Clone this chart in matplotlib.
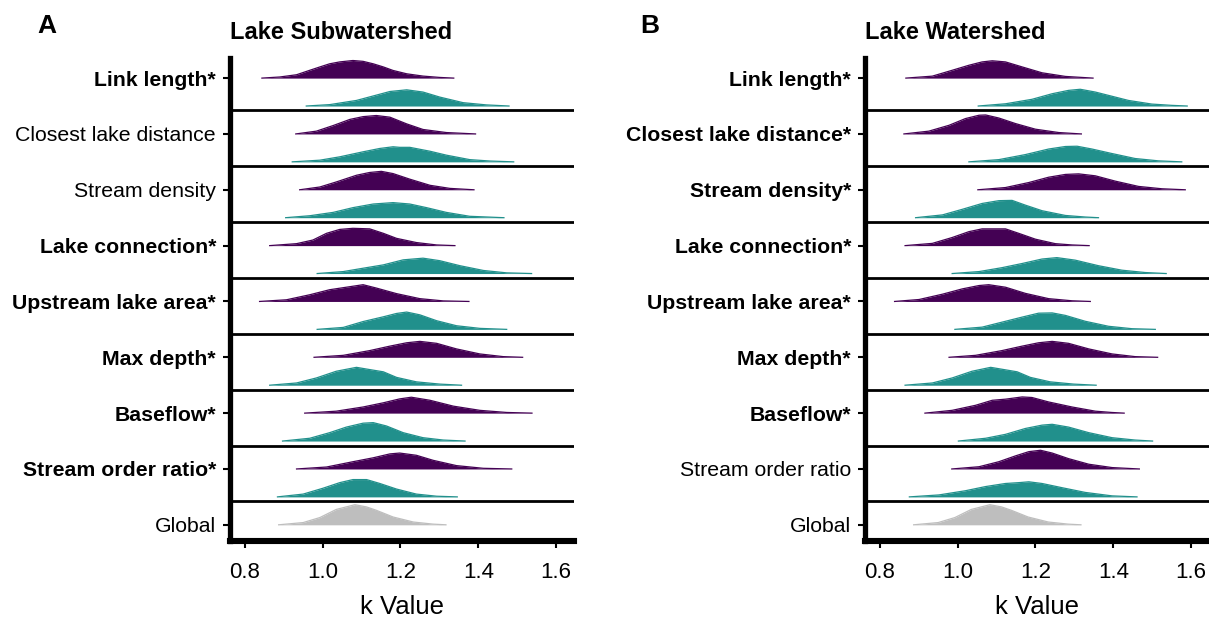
import matplotlib
matplotlib.use("Agg")
import matplotlib.pyplot as plt

plt.rcParams['font.family'] = ['Liberation Sans', 'DejaVu Sans']

# row labels (top to bottom) and which ones are bold (significant)
labels = ['Link length', 'Closest lake distance', 'Stream density', 'Lake connection',
          'Upstream lake area', 'Max depth', 'Baseflow', 'Stream order ratio']
sub_sig = [True, False, False, True, True, True, True, True]
ws_sig = [True, True, True, True, True, True, True, False]

# ridge outlines: k value and ridge height (row units)
sub_purple_x = [
    [0.844, 0.89, 0.933, 0.967, 0.993, 1.018, 1.044, 1.078, 1.104, 1.13, 1.156, 1.181, 1.216, 1.258, 1.301, 1.337],
    [0.931, 0.984, 1.027, 1.07, 1.104, 1.138, 1.173, 1.216, 1.258, 1.318, 1.393],
    [0.941, 0.993, 1.035, 1.087, 1.121, 1.151, 1.181, 1.224, 1.276, 1.327, 1.389],
    [0.864, 0.933, 0.975, 1.01, 1.044, 1.078, 1.121, 1.156, 1.19, 1.241, 1.293, 1.34],
    [0.838, 0.907, 0.967, 1.018, 1.061, 1.104, 1.138, 1.19, 1.25, 1.31, 1.376],
    [0.978, 1.053, 1.121, 1.173, 1.216, 1.25, 1.293, 1.344, 1.404, 1.464, 1.514],
    [0.954, 1.035, 1.104, 1.156, 1.198, 1.228, 1.276, 1.336, 1.404, 1.473, 1.538],
    [0.933, 1.01, 1.078, 1.13, 1.173, 1.198, 1.241, 1.284, 1.344, 1.413, 1.486],
]
sub_purple_h = [
    [0, 0.02, 0.06, 0.14, 0.2, 0.256, 0.29, 0.315, 0.30, 0.256, 0.2, 0.137, 0.077, 0.036, 0.012, 0],
    [0, 0.05, 0.15, 0.26, 0.31, 0.33, 0.30, 0.18, 0.08, 0.025, 0],
    [0, 0.05, 0.14, 0.26, 0.31, 0.33, 0.29, 0.19, 0.08, 0.025, 0],
    [0, 0.035, 0.10, 0.22, 0.29, 0.31, 0.30, 0.22, 0.13, 0.055, 0.012, 0],
    [0, 0.03, 0.12, 0.21, 0.255, 0.30, 0.24, 0.14, 0.05, 0.01, 0],
    [0, 0.035, 0.12, 0.20, 0.26, 0.285, 0.25, 0.15, 0.06, 0.012, 0],
    [0, 0.035, 0.11, 0.185, 0.255, 0.285, 0.23, 0.125, 0.05, 0.012, 0],
    [0, 0.035, 0.13, 0.20, 0.27, 0.285, 0.245, 0.155, 0.06, 0.012, 0],
]
sub_teal_x = [
    [0.958, 1.018, 1.087, 1.13, 1.173, 1.216, 1.258, 1.301, 1.361, 1.421, 1.479],
    [0.922, 0.993, 1.044, 1.104, 1.147, 1.181, 1.198, 1.224, 1.276, 1.318, 1.378, 1.43, 1.491],
    [0.905, 0.967, 1.027, 1.078, 1.13, 1.181, 1.224, 1.267, 1.318, 1.378, 1.466],
    [0.986, 1.053, 1.104, 1.156, 1.207, 1.258, 1.301, 1.353, 1.413, 1.473, 1.537],
    [0.986, 1.053, 1.104, 1.156, 1.19, 1.216, 1.25, 1.293, 1.344, 1.404, 1.473],
    [0.864, 0.933, 0.984, 1.035, 1.087, 1.121, 1.156, 1.19, 1.241, 1.301, 1.357],
    [0.897, 0.967, 1.018, 1.061, 1.104, 1.13, 1.164, 1.207, 1.258, 1.31, 1.366],
    [0.884, 0.95, 1.001, 1.044, 1.078, 1.113, 1.147, 1.19, 1.241, 1.293, 1.346],
]
sub_teal_h = [
    [0, 0.025, 0.10, 0.18, 0.26, 0.29, 0.25, 0.16, 0.06, 0.02, 0],
    [0, 0.03, 0.09, 0.18, 0.24, 0.27, 0.26, 0.26, 0.19, 0.12, 0.04, 0.015, 0],
    [0, 0.035, 0.095, 0.18, 0.245, 0.27, 0.245, 0.18, 0.095, 0.025, 0],
    [0, 0.035, 0.095, 0.155, 0.245, 0.275, 0.23, 0.14, 0.055, 0.012, 0],
    [0, 0.035, 0.14, 0.225, 0.285, 0.31, 0.26, 0.155, 0.065, 0.018, 0],
    [0, 0.04, 0.13, 0.25, 0.32, 0.28, 0.24, 0.14, 0.06, 0.02, 0],
    [0, 0.05, 0.15, 0.25, 0.32, 0.33, 0.27, 0.15, 0.06, 0.018, 0],
    [0, 0.05, 0.155, 0.255, 0.31, 0.31, 0.24, 0.14, 0.05, 0.012, 0],
]

ws_purple_x = [
    [0.867, 0.935, 0.986, 1.029, 1.063, 1.089, 1.123, 1.166, 1.217, 1.277, 1.348],
    [0.862, 0.926, 0.978, 1.02, 1.055, 1.072, 1.106, 1.149, 1.2, 1.26, 1.318],
    [1.052, 1.123, 1.183, 1.234, 1.277, 1.311, 1.354, 1.405, 1.465, 1.525, 1.585],
    [0.865, 0.935, 0.986, 1.029, 1.063, 1.123, 1.157, 1.2, 1.251, 1.294, 1.338],
    [0.838, 0.901, 0.961, 1.012, 1.055, 1.08, 1.123, 1.174, 1.234, 1.294, 1.341],
    [0.978, 1.046, 1.114, 1.166, 1.208, 1.243, 1.285, 1.337, 1.397, 1.456, 1.514],
    [0.916, 0.986, 1.046, 1.089, 1.123, 1.166, 1.191, 1.234, 1.294, 1.354, 1.396, 1.428],
    [0.985, 1.055, 1.106, 1.149, 1.183, 1.213, 1.243, 1.285, 1.337, 1.397, 1.467],
]
ws_purple_h = [
    [0, 0.035, 0.14, 0.23, 0.29, 0.31, 0.29, 0.20, 0.095, 0.03, 0],
    [0, 0.05, 0.155, 0.275, 0.335, 0.34, 0.285, 0.185, 0.085, 0.025, 0],
    [0, 0.04, 0.13, 0.225, 0.275, 0.285, 0.25, 0.155, 0.06, 0.018, 0],
    [0, 0.04, 0.145, 0.25, 0.30, 0.30, 0.22, 0.115, 0.035, 0.012, 0],
    [0, 0.035, 0.13, 0.225, 0.285, 0.30, 0.255, 0.145, 0.05, 0.012, 0],
    [0, 0.035, 0.12, 0.20, 0.26, 0.285, 0.25, 0.15, 0.06, 0.012, 0],
    [0, 0.05, 0.14, 0.23, 0.25, 0.29, 0.28, 0.20, 0.11, 0.035, 0.012, 0],
    [0, 0.04, 0.13, 0.235, 0.31, 0.335, 0.285, 0.185, 0.085, 0.025, 0],
]
ws_teal_x = [
    [1.053, 1.123, 1.191, 1.243, 1.285, 1.315, 1.354, 1.388, 1.439, 1.499, 1.55, 1.59],
    [1.029, 1.106, 1.174, 1.234, 1.277, 1.307, 1.345, 1.396, 1.456, 1.516, 1.576],
    [0.892, 0.961, 1.012, 1.063, 1.106, 1.14, 1.174, 1.217, 1.277, 1.328, 1.362],
    [0.986, 1.055, 1.114, 1.166, 1.217, 1.255, 1.302, 1.362, 1.422, 1.482, 1.536],
    [0.993, 1.063, 1.123, 1.166, 1.208, 1.243, 1.277, 1.328, 1.388, 1.448, 1.508],
    [0.865, 0.935, 0.986, 1.037, 1.085, 1.119, 1.153, 1.187, 1.238, 1.298, 1.356],
    [1.002, 1.072, 1.123, 1.174, 1.217, 1.243, 1.285, 1.337, 1.397, 1.456, 1.501],
    [0.876, 0.952, 1.02, 1.072, 1.123, 1.157, 1.183, 1.217, 1.268, 1.328, 1.397, 1.461],
]
ws_teal_h = [
    [0, 0.04, 0.12, 0.22, 0.28, 0.30, 0.25, 0.19, 0.10, 0.035, 0.012, 0],
    [0, 0.04, 0.13, 0.23, 0.275, 0.28, 0.23, 0.15, 0.06, 0.018, 0],
    [0, 0.05, 0.15, 0.255, 0.305, 0.31, 0.225, 0.125, 0.04, 0.012, 0],
    [0, 0.035, 0.105, 0.18, 0.26, 0.285, 0.24, 0.14, 0.06, 0.018, 0],
    [0, 0.04, 0.145, 0.22, 0.29, 0.295, 0.25, 0.145, 0.055, 0.012, 0],
    [0, 0.04, 0.13, 0.25, 0.32, 0.28, 0.24, 0.14, 0.06, 0.02, 0],
    [0, 0.05, 0.12, 0.225, 0.285, 0.30, 0.25, 0.15, 0.06, 0.018, 0],
    [0, 0.035, 0.11, 0.185, 0.24, 0.255, 0.27, 0.24, 0.165, 0.08, 0.018, 0],
]

global_x = [0.887, 0.95, 0.993, 1.035, 1.083, 1.113, 1.138, 1.181, 1.233, 1.284, 1.317]
global_h = [0, 0.04, 0.13, 0.275, 0.36, 0.32, 0.26, 0.14, 0.05, 0.012, 0]

xticks = [0.8, 1.0, 1.2, 1.4, 1.6]

PURPLE = '#440154'
TEAL = '#21908C'
GREY = '#BEBEBE'


def ridge(ax, x, h, base, color):
    top = [base + v for v in h]
    ax.fill_between(x, base, top, color=color, lw=0, zorder=2)
    ax.plot(x, top, color=color, lw=0.9, zorder=2)


def panel(ax, title, sig, px, ph, tx, th):
    n = len(labels)
    for i in range(n):
        y0 = n - i
        ridge(ax, px[i], ph[i], y0, PURPLE)
        ridge(ax, tx[i], th[i], y0 - 0.5, TEAL)
        ax.axhline(y0 - 0.58, color='black', lw=2.0, zorder=3)
    ridge(ax, global_x, global_h, 0, GREY)

    ax.set_xlim(0.762, 1.646)
    ax.set_ylim(-0.29, 8.36)
    ax.set_xticks(xticks)
    ax.set_xticklabels(['%.1f' % t for t in xticks], fontsize=16)
    ax.set_yticks(list(range(n, -1, -1)))
    ax.set_yticklabels([lab + ('*' if s else '') for lab, s in zip(labels, sig)] + ['Global'],
                       fontsize=15.3)
    for t, s in zip(ax.get_yticklabels(), sig + [False]):
        t.set_fontweight('bold' if s else 'normal')
    ax.tick_params(axis='both', length=5, width=1.5, color='black')
    ax.tick_params(axis='y', pad=5)
    ax.tick_params(axis='x', pad=10)
    for s in ['top', 'right']:
        ax.spines[s].set_visible(False)
    ax.spines['left'].set_linewidth(3.8)
    ax.spines['bottom'].set_linewidth(4.4)
    ax.set_xlabel('k Value', fontsize=18.5, labelpad=9)
    ax.set_title(title, loc='left', fontsize=17, fontweight='bold', pad=13.5)


fig = plt.figure(figsize=(12.09, 6.25), dpi=100)
ax_a = fig.add_axes([230 / 1209, 84 / 625, 344 / 1209, 483 / 625])
ax_b = fig.add_axes([865 / 1209, 84 / 625, 344 / 1209, 483 / 625])

panel(ax_a, 'Lake Subwatershed', sub_sig, sub_purple_x, sub_purple_h, sub_teal_x, sub_teal_h)
panel(ax_b, 'Lake Watershed', ws_sig, ws_purple_x, ws_purple_h, ws_teal_x, ws_teal_h)

fig.text(37 / 1209, 1 - 33 / 625, 'A', fontsize=19, fontweight='bold', va='baseline')
fig.text(640 / 1209, 1 - 33 / 625, 'B', fontsize=19, fontweight='bold', va='baseline')

fig.savefig('out.png', dpi=100)
